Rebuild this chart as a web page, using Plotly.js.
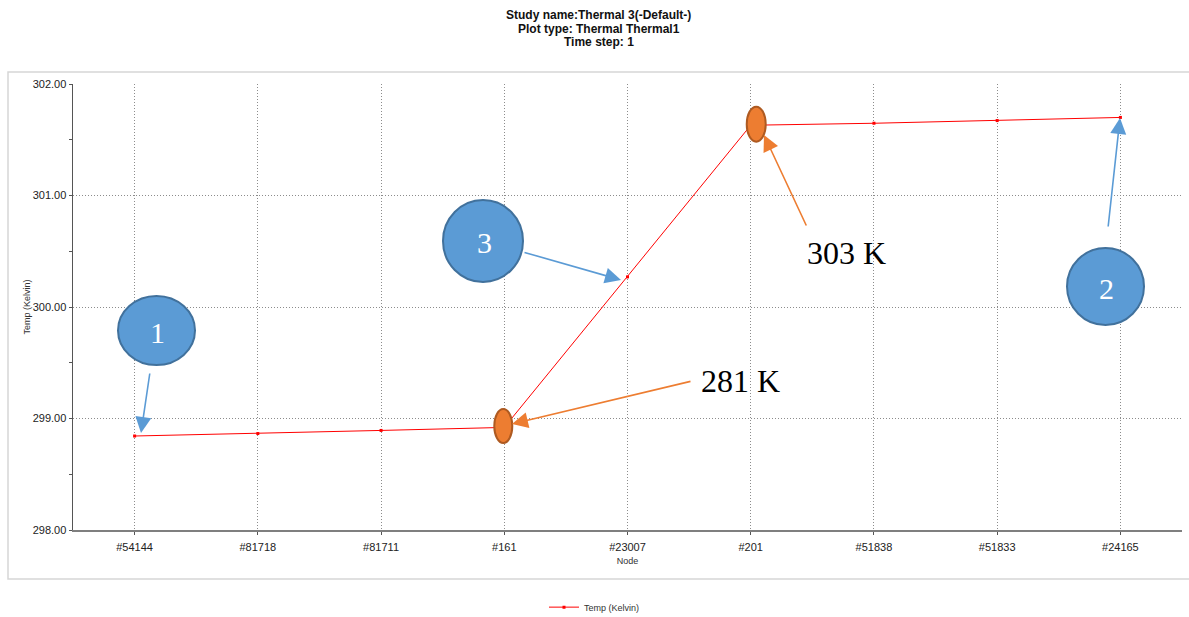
<!DOCTYPE html>
<html>
<head>
<meta charset="utf-8">
<script src="https://cdn.plot.ly/plotly-3.0.1.min.js"></script>
<style>
  html, body { margin: 0; padding: 0; background: #ffffff; }
  #chart { width: 1189px; height: 617px; }
</style>
</head>
<body>
<div id="chart"></div>
<script>
// Nodal temperatures along the probed path
const nodes = ['#54144', '#81718', '#81711', '#161', '#23007', '#201', '#51838', '#51833', '#24165'];
const temps = [298.843, 298.865, 298.893, 298.92, 300.27, 301.63, 301.648, 301.672, 301.70];
const seriesName = 'Temp (Kelvin)';
const yTicks = [298, 299, 300, 301, 302];
const headerLines = ['Study name:Thermal 3(-Default-)', 'Plot type: Thermal Thermal1', 'Time step: 1'];

// Plot-area geometry (pixels) used to place callouts in paper space
const W = 1189, H = 617;
const M = { l: 73, r: 7, t: 84, b: 87 };
const PW = W - M.l - M.r, PH = H - M.t - M.b;
const px = x => (x - M.l) / PW;
const py = y => (H - M.b - y) / PH;

const BLUE = '#5B9BD5', BLUE_EDGE = '#41719C';
const ORANGE = '#ED7D31', ORANGE_EDGE = '#AE5A21';
const SERIF = 'Liberation Serif, Times New Roman, serif';
const SANS = 'Liberation Sans, Arial, sans-serif';
const GRID_DASH = '1px,2px';

function bubble(cx, cy, rx, ry) {
  return {
    type: 'circle', xref: 'paper', yref: 'paper', layer: 'above',
    x0: px(cx - rx), x1: px(cx + rx), y0: py(cy + ry), y1: py(cy - ry),
    fillcolor: BLUE, line: { color: BLUE_EDGE, width: 2 }
  };
}
// ellipse pinned to a data point, offsets in pixels around it
function marker(idx, left, right, below, above) {
  return {
    type: 'circle', xref: 'x', yref: 'y', layer: 'above',
    xsizemode: 'pixel', ysizemode: 'pixel',
    xanchor: idx, yanchor: temps[idx],
    x0: -left, x1: right, y0: -below, y1: above,
    fillcolor: ORANGE, line: { color: ORANGE_EDGE, width: 2 }
  };
}
function arrow(tailX, tailY, tipX, tipY, color) {
  return {
    xref: 'paper', yref: 'paper', x: px(tipX), y: py(tipY),
    ax: tailX - tipX, ay: tailY - tipY,
    text: '', showarrow: true, arrowhead: 2, arrowsize: 2, arrowwidth: 1.6,
    arrowcolor: color, standoff: 0, startstandoff: 0
  };
}
function label(cx, cy, text, color, size) {
  return {
    xref: 'paper', yref: 'paper', x: px(cx), y: py(cy),
    xanchor: 'center', yanchor: 'middle', showarrow: false,
    text: text, font: { family: SERIF, size: size, color: color }
  };
}
function header(i) {
  return {
    xref: 'paper', yref: 'paper', x: px(598.5), y: py(15 + 13.7 * i),
    xanchor: 'center', yanchor: 'middle', showarrow: false,
    text: '<b>' + headerLines[i] + '</b>',
    font: { family: SANS, size: 12, color: '#111111' }
  };
}

const iStart = nodes.indexOf('#161');
const iEnd = nodes.indexOf('#201');

const trace = {
  type: 'scatter', mode: 'lines+markers', name: seriesName,
  x: nodes, y: temps,
  line: { color: '#ff0000', width: 1 },
  marker: { color: '#ff0000', size: 3, symbol: 'square' }
};

const layout = {
  width: W, height: H,
  margin: M,
  paper_bgcolor: '#ffffff', plot_bgcolor: '#ffffff',
  font: { family: SANS, color: '#222222', size: 11 },
  xaxis: {
    type: 'category', range: [-0.5, nodes.length - 0.5],
    showgrid: true, gridcolor: '#8c8c8c', griddash: GRID_DASH, gridwidth: 1,
    showline: true, linecolor: '#7f7f7f', linewidth: 1.5,
    ticks: 'outside', ticklen: 3, tickcolor: '#555555',
    ticklabelstandoff: 3,
    tickfont: { family: SANS, size: 11, color: '#222222' },
    title: { text: 'Node', font: { family: SANS, size: 9, color: '#333333' }, standoff: 6 },
    zeroline: false, fixedrange: true
  },
  yaxis: {
    range: [298, 302], tickvals: yTicks, tickformat: '.2f',
    showgrid: true, gridcolor: '#8c8c8c', griddash: GRID_DASH, gridwidth: 1,
    showline: true, linecolor: '#555555', linewidth: 1.5,
    ticks: 'outside', ticklen: 3, tickcolor: '#555555',
    minor: { dtick: 0.5, ticks: 'outside', ticklen: 3, tickcolor: '#555555', showgrid: false },
    tickfont: { family: SANS, size: 11, color: '#222222' },
    title: { text: 'Temp (Kelvin)', font: { family: SANS, size: 9, color: '#333333' }, standoff: 0 },
    zeroline: false, fixedrange: true
  },
  showlegend: true,
  legend: {
    orientation: 'h', xref: 'container', yref: 'container',
    x: 0.5, xanchor: 'center', y: 0.016, yanchor: 'middle',
    font: { family: SANS, size: 9, color: '#333333' }
  },
  shapes: [
    // outer chart frame
    { type: 'rect', xref: 'paper', yref: 'paper', layer: 'below',
      x0: px(8), x1: px(1192), y0: py(579), y1: py(72),
      line: { color: '#d6d6d6', width: 1.5 }, fillcolor: 'rgba(0,0,0,0)' },
    bubble(156.5, 330.5, 38.5, 34.5),
    bubble(1105.5, 286.5, 38.5, 38.5),
    bubble(483, 241, 40, 41),
    marker(iStart, 10, 8, 15.6, 18.4),
    marker(iEnd, 4, 15, 16.4, 18.6)
  ],
  annotations: [
    header(0), header(1), header(2),
    arrow(150, 372, 141, 433, BLUE),
    arrow(1108, 228, 1120, 118, BLUE),
    arrow(523, 252, 621, 280, BLUE),
    arrow(692, 381, 512, 424, ORANGE),
    arrow(807, 227, 764, 135, ORANGE),
    label(157, 332, '1', '#ffffff', 30),
    label(1106, 288, '2', '#ffffff', 30),
    label(484, 242, '3', '#ffffff', 30),
    label(740, 381, '281 K', '#000000', 32),
    label(846, 253, '303 K', '#000000', 32)
  ]
};

Plotly.newPlot('chart', [trace], layout, { displayModeBar: false, staticPlot: true });
</script>
</body>
</html>
